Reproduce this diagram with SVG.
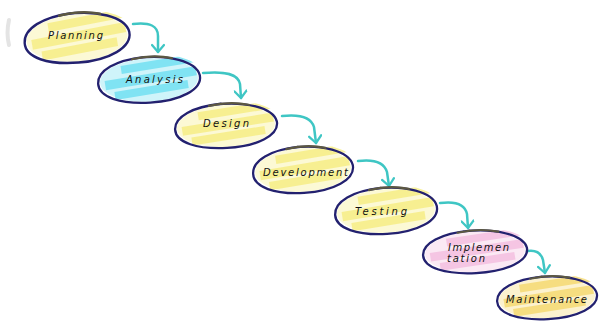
<svg xmlns="http://www.w3.org/2000/svg" xmlns:xlink="http://www.w3.org/1999/xlink" width="599" height="323" viewBox="0 0 599 323">
  <style>
    .rim { fill: none; stroke: #23216f; stroke-width: 2.3; stroke-linecap: round; }
    .rim-top { fill: none; stroke: #5c5842; stroke-width: 2.2; stroke-linecap: round; }
    .flow { fill: none; stroke: #3fc6c4; stroke-width: 2.5; stroke-linecap: round; marker-end: url(#head); }
    .lbl { font-family: "DejaVu Sans", "Liberation Sans", sans-serif; font-style: italic; font-size: 10px; fill: #111; }
    .yellow { color: #f6ec74; }
    .cyan { color: #5fdcef; }
    .pink { color: #f2b6dc; }
    .amber { color: #f4d55f; }
  </style>
  <defs>
    <!-- open V arrowhead -->
    <marker id="head" viewBox="0 0 12 14" refX="10" refY="7" markerWidth="12" markerHeight="14" markerUnits="userSpaceOnUse" orient="auto">
      <path d="M3,1 L10,7 L3,13" fill="none" stroke="#3fc6c4" stroke-width="2.3" stroke-linecap="round" stroke-linejoin="round"/>
    </marker>
    <clipPath id="inside">
      <ellipse cx="1" cy="-1" rx="54" ry="24"/>
    </clipPath>
    <!-- highlighter fill, tinted through currentColor -->
    <g id="marks">
      <ellipse cx="0" cy="0" rx="49" ry="21" fill="currentColor" opacity="0.3"/>
      <g clip-path="url(#inside)">
        <g transform="rotate(-6)" fill="currentColor" opacity="0.7">
          <rect x="-44" y="-6" width="92" height="9"/>
          <rect x="-36" y="6" width="74" height="8"/>
          <rect x="-26" y="-18" width="78" height="8"/>
        </g>
      </g>
    </g>
    <!-- sketched outline -->
    <path id="rim" d="M-10,-22 C20,-24 48,-16 51,-2 C53,12 30,22 0,22 C-30,22 -51,14 -51,1 C-51,-12 -32,-21 -4,-22.5"/>
    <path id="rimTop" d="M-16,-21 C-2,-23.5 12,-23 24,-20"/>
  </defs>

  <!-- faint pencil smudge at left edge -->
  <path d="M9,20 C7,29 7,37 9,45" fill="none" stroke="#e4e4e4" stroke-width="4" stroke-linecap="round"/>

  <g id="connectors">
    <path class="flow" d="M133,24 C150,22 158,26 158,36 L158,52"/>
    <path class="flow" d="M203,73 C226,71 238,74 240,84 L241,98"/>
    <path class="flow" d="M282,116 C300,114 311,117 314,127 L316,143"/>
    <path class="flow" d="M358,161 C374,159 384,162 387,172 L389,186"/>
    <path class="flow" d="M440,203 C455,201 465,204 467,214 L468,228"/>
    <path class="flow" d="M528,251 C536,250 541,253 543,260 L545,273"/>
  </g>

  <g id="planning" transform="translate(77,38) scale(1.03,1.12) rotate(-4)">
    <use xlink:href="#marks" class="yellow"/>
    <use xlink:href="#rim" class="rim"/>
    <use xlink:href="#rimTop" class="rim-top"/>
  </g>
  <text class="lbl" x="48" y="39" textLength="55" lengthAdjust="spacing">Planning</text>

  <g id="analysis" transform="translate(149,80) scale(1.0,1.03) rotate(-3)">
    <use xlink:href="#marks" class="cyan"/>
    <use xlink:href="#rim" class="rim"/>
    <use xlink:href="#rimTop" class="rim-top"/>
  </g>
  <text class="lbl" x="126" y="83" textLength="57" lengthAdjust="spacing">Analysis</text>

  <g id="design" transform="translate(226,126) scale(1.0,1.0) rotate(-3)">
    <use xlink:href="#marks" class="yellow"/>
    <use xlink:href="#rim" class="rim"/>
    <use xlink:href="#rimTop" class="rim-top"/>
  </g>
  <text class="lbl" x="203" y="127" textLength="46" lengthAdjust="spacing">Design</text>

  <g id="development" transform="translate(303,170) scale(0.98,1.04) rotate(-3)">
    <use xlink:href="#marks" class="yellow"/>
    <use xlink:href="#rim" class="rim"/>
    <use xlink:href="#rimTop" class="rim-top"/>
  </g>
  <text class="lbl" x="263" y="176" textLength="85" lengthAdjust="spacing">Development</text>

  <g id="testing" transform="translate(386,211) scale(1.0,1.04) rotate(-3)">
    <use xlink:href="#marks" class="yellow"/>
    <use xlink:href="#rim" class="rim"/>
    <use xlink:href="#rimTop" class="rim-top"/>
  </g>
  <text class="lbl" x="355" y="215" textLength="52" lengthAdjust="spacing">Testing</text>

  <g id="implementation" transform="translate(475,252) scale(1.02,0.96) rotate(-3)">
    <use xlink:href="#marks" class="pink"/>
    <use xlink:href="#rim" class="rim"/>
    <use xlink:href="#rimTop" class="rim-top"/>
  </g>
  <text class="lbl" x="448" y="251" textLength="61" lengthAdjust="spacing">Implemen</text>
  <text class="lbl" x="447" y="262" textLength="38" lengthAdjust="spacing">tation</text>

  <g id="maintenance" transform="translate(547,298) scale(0.98,0.96) rotate(-3)">
    <use xlink:href="#marks" class="amber"/>
    <use xlink:href="#rim" class="rim"/>
    <use xlink:href="#rimTop" class="rim-top"/>
  </g>
  <text class="lbl" x="506" y="303" textLength="81" lengthAdjust="spacing">Maintenance</text>
</svg>
